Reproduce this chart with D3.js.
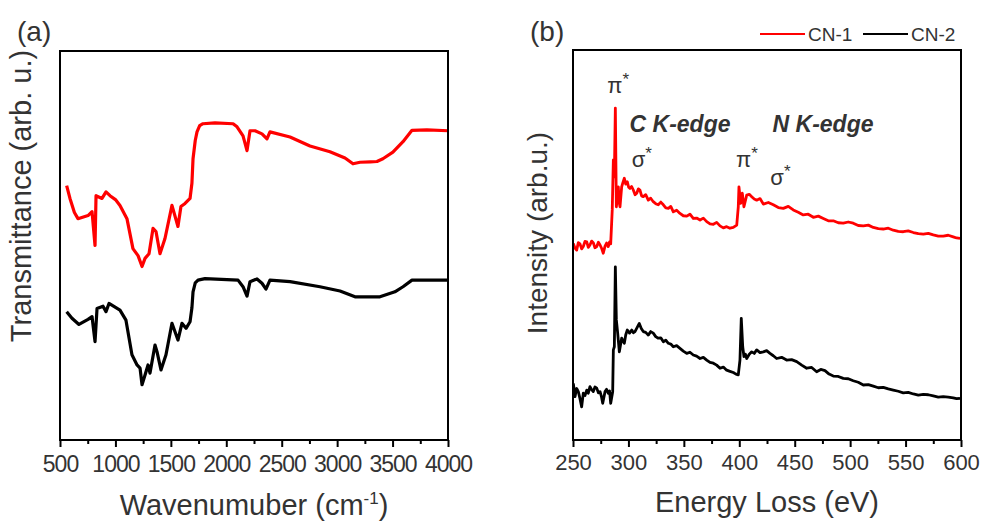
<!DOCTYPE html>
<html>
<head>
<meta charset="utf-8">
<script src="https://cdn.jsdelivr.net/npm/d3@7/dist/d3.min.js"></script>
<style>
    body { margin: 0; background: #fff; }
    svg text { font-family: Arial, "Liberation Sans", sans-serif; fill: #333; }
</style>
</head>
<body>
<svg id="chart" width="981" height="522"></svg>
<script>
// ---- data ----
const seriesNames = ["CN-1", "CN-2"];
const seriesColors = ["#ff0000", "#000000"];

const ftirTicks = [500, 1000, 1500, 2000, 2500, 3000, 3500, 4000];
const eelsTicks = [250, 300, 350, 400, 450, 500, 550, 600];

// FTIR: [wavenumber, transmittance (arb.)]
const ftirCN1 = [
    [560, 65.4], [590, 62.1], [630, 58.5], [662, 56.9], [753, 57.7], [789, 58.7], [816, 50.0], [825, 62.8],
    [879, 62.1], [915, 63.8], [951, 62.8], [1000, 61.8], [1041, 60.3], [1104, 56.9], [1158, 49.2], [1204, 47.4],
    [1240, 44.6], [1267, 46.7], [1303, 47.9], [1339, 54.4], [1366, 53.6], [1402, 47.9], [1447, 51.8],
    [1510, 60.3], [1564, 54.9], [1591, 60.0], [1628, 60.8], [1673, 62.1], [1690, 66.0], [1700, 72.3],
    [1720, 77.0], [1736, 79.2], [1760, 80.8], [1790, 81.3], [1898, 81.5], [2061, 81.3], [2097, 80.5],
    [2151, 78.2], [2187, 74.4], [2214, 79.5], [2259, 79.5], [2322, 78.7], [2367, 77.4], [2394, 79.2],
    [2575, 77.9], [2755, 75.6], [2935, 74.1], [3071, 72.5], [3143, 71.0], [3206, 71.4], [3300, 71.5],
    [3359, 71.6], [3413, 72.3], [3503, 74.0], [3594, 76.7], [3675, 79.6], [3810, 79.7], [4000, 79.5]
];
const ftirCN2 = [
    [560, 33.0], [608, 31.3], [671, 29.7], [753, 31.0], [789, 31.7], [816, 25.3], [834, 33.8],
    [888, 34.4], [915, 33.0], [942, 35.1], [1041, 33.4], [1095, 30.8], [1149, 21.9], [1195, 19.3],
    [1222, 18.5], [1240, 14.2], [1267, 16.7], [1294, 19.3], [1312, 17.2], [1357, 24.4], [1375, 22.7],
    [1411, 18.0], [1456, 21.9], [1510, 30.0], [1564, 25.7], [1600, 30.0], [1637, 28.7], [1673, 30.4],
    [1690, 34.0], [1700, 38.1], [1720, 40.4], [1745, 41.1], [1808, 41.5], [2106, 41.1], [2151, 39.4],
    [2187, 37.0], [2214, 40.7], [2277, 41.4], [2322, 40.3], [2358, 38.8], [2394, 41.1], [2575, 40.7],
    [2845, 39.4], [3026, 38.3], [3161, 36.8], [3386, 36.8], [3521, 38.1], [3594, 39.4], [3675, 41.1],
    [4000, 41.1]
];

// EELS: [energy loss (eV), intensity (arb.)]
const eelsCN1 = [
    [250.3, 50.4], [251.8, 49.2], [253.3, 48.7], [254.8, 50.6], [256.3, 50.3], [257.8, 49.0], [259.3, 49.6],
    [260.8, 50.9], [262.4, 50.8], [263.8, 49.4], [265.3, 50.0], [266.8, 51.0], [268.3, 50.6], [269.8, 49.3],
    [271.4, 49.6], [272.9, 50.7], [274.4, 50.0], [275.9, 49.1], [277.3, 47.9], [278.9, 49.7], [280.3, 50.5],
    [281.8, 49.6], [283.0, 50.8], [284.0, 50.3], [285.4, 59.0], [286.4, 71.8], [287.3, 67.5], [288.2, 85.1],
    [289.1, 59.8], [290.0, 62.0], [290.9, 64.9], [291.6, 61.0], [292.4, 59.8], [293.9, 64.9], [295.0, 66.0],
    [296.3, 67.1], [297.6, 65.6], [299.0, 66.2], [300.2, 64.8], [301.4, 64.5], [302.9, 65.0], [304.4, 64.1],
    [306.0, 62.9], [307.5, 63.3], [309.0, 64.4], [310.4, 64.1], [311.9, 62.6], [313.4, 62.4], [315.6, 62.9],
    [317.9, 61.5], [320.1, 62.0], [322.4, 61.1], [324.6, 60.6], [326.9, 60.3], [329.2, 61.0], [331.5, 60.3],
    [333.7, 59.5], [336.0, 59.4], [338.2, 59.9], [340.5, 58.5], [343.5, 58.9], [346.5, 58.1], [349.5, 57.5],
    [352.6, 57.4], [355.5, 57.9], [358.5, 56.8], [361.5, 56.9], [364.6, 56.4], [367.6, 56.9], [370.6, 56.0],
    [373.6, 55.4], [376.6, 55.3], [379.6, 55.8], [382.6, 54.9], [385.6, 54.4], [388.6, 54.7], [391.6, 54.3],
    [394.6, 54.5], [397.7, 55.1], [399.1, 59.8], [399.7, 64.9], [401.3, 60.7], [402.7, 63.3], [404.2, 59.8],
    [406.7, 62.8], [409.0, 63.0], [411.2, 62.4], [413.5, 61.8], [415.7, 61.5], [418.7, 61.9], [421.7, 60.5],
    [426.2, 60.9], [430.7, 60.3], [435.2, 59.6], [439.7, 59.4], [444.2, 59.9], [448.7, 59.0], [453.2, 58.4],
    [457.7, 57.7], [462.2, 57.9], [466.8, 57.1], [471.3, 57.4], [475.8, 56.8], [480.3, 56.2], [484.8, 56.2],
    [489.3, 55.7], [493.8, 55.6], [498.3, 55.9], [502.8, 55.6], [507.3, 55.0], [511.9, 54.9], [516.4, 55.1],
    [520.9, 54.5], [525.4, 54.2], [529.9, 54.1], [534.4, 54.3], [538.9, 53.8], [543.4, 53.5], [547.9, 53.4],
    [552.4, 53.6], [557.0, 53.2], [561.5, 52.9], [566.0, 52.8], [570.5, 53.0], [575.0, 52.6], [579.5, 52.3],
    [584.0, 52.3], [588.5, 52.5], [593.0, 52.1], [596.0, 51.8], [599.1, 51.7]
];
const eelsCN2 = [
    [250.3, 14.5], [251.8, 11.1], [253.3, 13.2], [254.8, 12.4], [256.3, 10.6], [257.8, 8.5], [259.3, 12.0],
    [260.8, 11.4], [262.4, 12.8], [263.8, 12.0], [265.3, 13.7], [266.8, 12.9], [268.3, 12.4], [269.8, 13.6],
    [271.4, 13.3], [272.9, 12.1], [274.4, 12.4], [275.6, 11.2], [276.8, 9.4], [278.9, 12.4], [280.3, 13.0],
    [281.8, 12.0], [283.0, 12.6], [284.0, 9.4], [285.8, 12.4], [286.4, 23.1], [287.3, 23.9], [288.2, 44.4],
    [289.1, 30.8], [290.3, 27.4], [291.8, 22.6], [293.9, 26.1], [295.1, 25.4], [296.3, 24.8], [297.6, 27.0],
    [299.0, 28.2], [301.0, 27.4], [303.0, 28.2], [304.5, 27.5], [305.9, 27.8], [307.8, 28.8], [309.8, 29.9],
    [311.6, 28.6], [313.4, 27.8], [315.6, 27.6], [317.9, 26.9], [320.1, 27.8], [322.4, 27.4], [324.6, 26.5],
    [326.9, 26.1], [329.2, 26.2], [331.5, 25.2], [333.7, 25.6], [336.0, 24.8], [338.2, 24.6], [340.5, 23.9],
    [343.5, 24.2], [346.5, 23.5], [349.5, 22.8], [352.6, 22.2], [355.5, 22.5], [358.5, 21.8], [361.5, 21.5],
    [364.6, 20.9], [367.6, 21.2], [370.6, 20.5], [373.6, 19.9], [376.6, 19.7], [379.6, 19.2], [382.6, 18.4],
    [385.6, 18.7], [388.6, 17.9], [391.6, 17.6], [394.6, 17.3], [397.0, 16.9], [399.1, 16.7], [400.6, 20.5],
    [401.8, 31.2], [403.1, 23.9], [404.2, 21.4], [405.5, 22.0], [406.7, 20.9], [409.0, 22.0], [411.2, 22.6],
    [413.5, 22.2], [415.7, 23.1], [418.7, 22.4], [421.7, 22.6], [424.7, 22.9], [427.7, 22.2], [430.7, 21.6],
    [433.7, 20.9], [438.2, 21.2], [442.7, 20.5], [447.2, 20.6], [451.8, 20.1], [456.3, 19.2], [460.8, 18.4],
    [465.3, 18.6], [469.8, 17.5], [473.5, 18.1], [477.3, 17.8], [481.0, 16.9], [484.8, 16.4], [489.3, 16.3],
    [493.8, 15.8], [498.3, 15.7], [502.8, 15.2], [507.3, 14.8], [511.9, 14.1], [516.4, 14.2], [520.9, 13.8],
    [525.4, 13.4], [529.9, 13.5], [534.4, 13.1], [538.9, 12.8], [543.4, 12.5], [547.9, 12.1], [552.4, 12.2],
    [557.0, 11.8], [561.5, 11.5], [566.0, 11.7], [570.5, 11.6], [575.0, 11.3], [579.5, 11.0], [584.0, 11.1],
    [588.5, 11.0], [593.0, 10.8], [596.0, 10.6], [599.1, 10.7]
];

// peak labels in panel (b): [text, energy, intensity, bold-italic?]
const eelsLabels = [
    ["π", 281, 89, false],
    ["C K-edge", 301, 79, true],
    ["N K-edge", 430, 79, true],
    ["σ", 303, 70, false],
    ["π", 397, 70, false],
    ["σ", 428, 65.5, false]
];

const svg = d3.select("#chart");

function drawPanel(opt) {
    const x = d3.scaleLinear().domain(opt.xDomain).range([opt.left, opt.right]);
    const y = d3.scaleLinear().domain([0, 100]).range([opt.bottom, opt.top]);
    const g = svg.append("g");

    // minor ticks
    const minors = d3.range(opt.xDomain[0] + opt.step / 2, opt.xDomain[1], opt.step);
    g.append("g")
        .attr("transform", `translate(0,${opt.bottom})`)
        .call(d3.axisBottom(x).tickValues(minors).tickSize(4).tickFormat(""))
        .call(a => a.select(".domain").remove())
        .selectAll("line").attr("stroke-width", 2);

    // major ticks + labels
    const ax = g.append("g")
        .attr("transform", `translate(0,${opt.bottom})`)
        .call(d3.axisBottom(x).tickValues(opt.ticks).tickSize(7).tickPadding(opt.pad).tickFormat(d3.format("d")));
    ax.select(".domain").remove();
    ax.selectAll("line").attr("stroke-width", 2);
    ax.selectAll("text")
        .style("font-size", opt.tickFont + "px")
        .style("letter-spacing", opt.spacing + "px")
        .attr("fill", "#333");

    // lines
    const line = d3.line().x(d => x(d[0])).y(d => y(d[1]));
    opt.series.forEach((s, i) => {
        g.append("path")
            .datum(s)
            .attr("fill", "none")
            .attr("stroke", seriesColors[i])
            .attr("stroke-width", opt.lineWidth)
            .attr("stroke-linejoin", "round")
            .attr("d", line);
    });

    // frame
    g.append("rect")
        .attr("x", opt.left).attr("y", opt.top)
        .attr("width", opt.right - opt.left).attr("height", opt.bottom - opt.top)
        .attr("fill", "none").attr("stroke", "#000").attr("stroke-width", 2);

    // panel letter
    svg.append("text")
        .attr("x", opt.left - 43).attr("y", 41)
        .style("font-size", "28px")
        .text(opt.letter);

    // y title
    svg.append("text")
        .attr("transform", `translate(${opt.yTitleX},${opt.yTitleY}) rotate(-90)`)
        .attr("text-anchor", "middle")
        .style("font-size", opt.yFont + "px")
        .text(opt.yTitle);

    return { g, x, y };
}

const left = drawPanel({
    left: 60, right: 448, top: 51, bottom: 440,
    xDomain: [500, 4000], step: 500, ticks: ftirTicks,
    pad: 9, tickFont: 23, spacing: -1,
    series: [ftirCN1, ftirCN2], lineWidth: 3.2,
    letter: "(a)", yTitle: "Transmittance (arb. u.)", yTitleX: 31, yTitleY: 196, yFont: 29
});

const xTitleA = svg.append("text")
    .attr("x", 254).attr("y", 515)
    .attr("text-anchor", "middle")
    .style("font-size", "29px");
xTitleA.append("tspan").text("Wavenumuber (cm");
xTitleA.append("tspan").attr("dy", -11).style("font-size", "17px").text("-1");
xTitleA.append("tspan").attr("dy", 11).text(")");

const right = drawPanel({
    left: 573, right: 961, top: 50, bottom: 440,
    xDomain: [250, 600], step: 50, ticks: eelsTicks,
    pad: 7, tickFont: 22, spacing: 0,
    series: [eelsCN1, eelsCN2], lineWidth: 2.8,
    letter: "(b)", yTitle: "Intensity (arb.u.)", yTitleX: 547, yTitleY: 233, yFont: 28
});

svg.append("text")
    .attr("x", 767).attr("y", 512)
    .attr("text-anchor", "middle")
    .style("font-size", "29px")
    .text("Energy Loss (eV)");

// peak annotations
eelsLabels.forEach(([t, e, v, bold]) => {
    const txt = right.g.append("text")
        .attr("x", right.x(e)).attr("y", right.y(v))
        .style("font-size", bold ? "23px" : "22px");
    if (bold) {
        txt.style("font-weight", "bold").style("font-style", "italic").attr("fill", "#222").text(t);
    } else {
        txt.append("tspan").text(t);
        txt.append("tspan").attr("dy", -8).style("font-size", "17px").text("*");
    }
});

// legend
const legend = svg.append("g").attr("transform", "translate(760,34)");
seriesNames.forEach((name, i) => {
    const item = legend.append("g").attr("transform", `translate(${i * 103},0)`);
    item.append("line")
        .attr("x1", 0).attr("x2", 45)
        .attr("stroke", seriesColors[i]).attr("stroke-width", 2);
    item.append("text")
        .attr("x", 48).attr("y", 7)
        .style("font-size", "19px")
        .text(name);
});
</script>
</body>
</html>
